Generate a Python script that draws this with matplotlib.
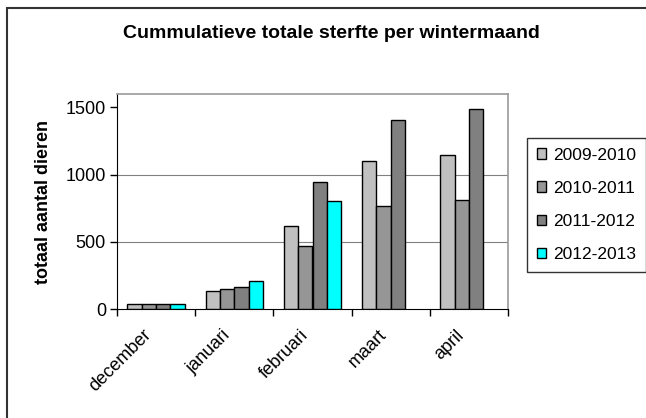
import numpy as np
import matplotlib.pyplot as plt
import matplotlib as mpl
import matplotlib.transforms as mtransforms
from matplotlib.patches import Rectangle

mpl.rcParams['font.family'] = ['Liberation Sans', 'DejaVu Sans']

# data
maanden = ['december', 'januari', 'februari', 'maart', 'april']
seizoenen = ['2009-2010', '2010-2011', '2011-2012', '2012-2013']
s2009 = [35, 136, 619, 1099, 1147]
s2010 = [35, 149, 467, 768, 808]
s2011 = [35, 162, 945, 1403, 1490]
s2012 = [35, 211, 806, np.nan, np.nan]
kleuren = ['#C0C0C0', '#969696', '#808080', '#00FFFF']

fig = plt.figure(figsize=(6.46, 4.18), dpi=100)
ax = fig.add_axes([117/646, 1-309/418, (508-117)/646, (309-94)/418])

# rand om de hele figuur
fig.patches.append(Rectangle((7/646, -0.1), 1.1, 1-8/418+0.1, transform=fig.transFigure,
                             fill=False, edgecolor='#333333', linewidth=1.5))

x = np.arange(len(maanden))
breedte = 0.183
reeksen = [s2009, s2010, s2011, s2012]
for i, (reeks, kleur, naam) in enumerate(zip(reeksen, kleuren, seizoenen)):
    ax.bar(x - 1.5*breedte + i*breedte, reeks, breedte, color=kleur,
           edgecolor='black', linewidth=1, label=naam, zorder=3)

ax.set_xlim(-0.5, 4.5)
ax.set_ylim(0, 1600)
ax.set_yticks([0, 500, 1000, 1500])
ax.tick_params(axis='y', labelsize=13, length=5, width=1, direction='out', pad=3)
for g in [500, 1000]:
    ax.axhline(g, color='#808080', linewidth=0.8, zorder=1)

# x ticks op de grenzen, labels in het midden
ax.set_xticks(np.arange(-0.5, 5, 1))
ax.set_xticklabels([])
ax.set_xticks(x, minor=True)
ax.set_xticklabels(maanden, minor=True, rotation=45, ha='right', va='center',
                   rotation_mode='anchor', fontsize=13)
ax.tick_params(axis='x', which='major', length=5, width=1)
ax.tick_params(axis='x', which='minor', length=0, pad=17)
verschuif = mtransforms.ScaledTranslation(-7/100, 0, fig.dpi_scale_trans)
for lab in ax.get_xticklabels(minor=True):
    lab.set_transform(lab.get_transform() + verschuif)

for k in ['top', 'right']:
    ax.spines[k].set_color('#999999')
    ax.spines[k].set_linewidth(1.2)
for k in ['left', 'bottom']:
    ax.spines[k].set_color('black')

ax.set_ylabel('totaal aantal dieren', fontsize=13, fontweight='bold', labelpad=10)
fig.text(0.5*(118+545)/646, 1-34/418, 'Cummulatieve totale sterfte per wintermaand',
         ha='center', va='center', fontsize=14, fontweight='bold')

leg = fig.legend(loc='upper left', bbox_to_anchor=(527/646, 1-138/418), fontsize=12.5,
                 frameon=True, fancybox=False, edgecolor='black', handlelength=0.55,
                 handleheight=0.55, handletextpad=0.4, labelspacing=1.05,
                 borderpad=0.55, borderaxespad=0)
leg.get_frame().set_linewidth(1)

fig.savefig('out.png', dpi=100)
